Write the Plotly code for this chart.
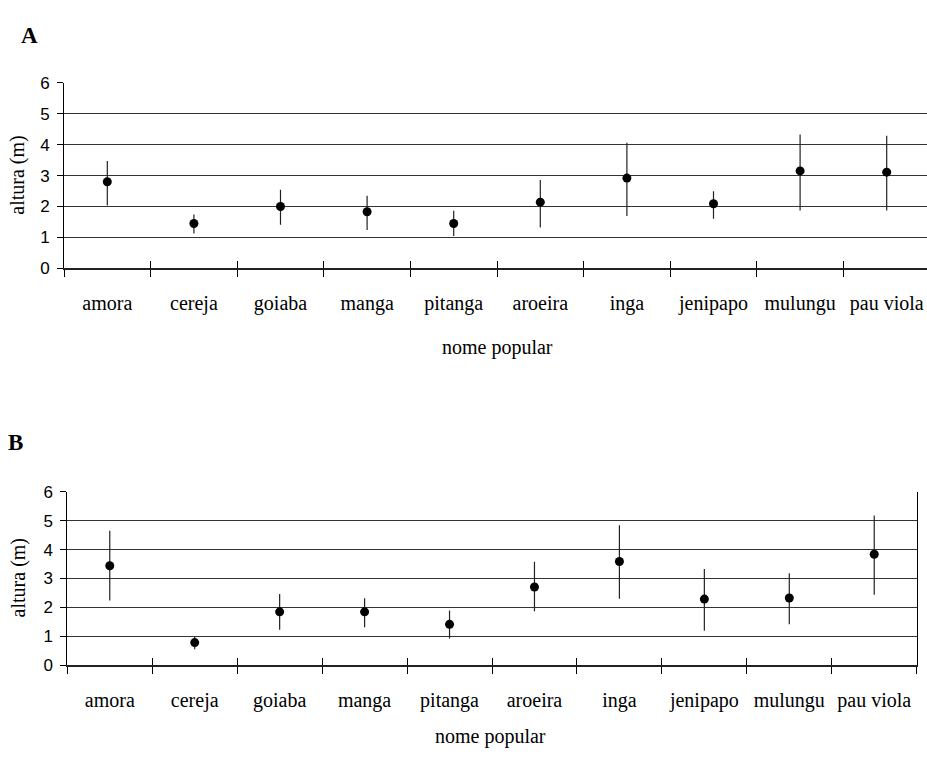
import plotly.graph_objects as go

categories = ["amora", "cereja", "goiaba", "manga", "pitanga",
              "aroeira", "inga", "jenipapo", "mulungu", "pau viola"]

# Panel A: mean height and error bar limits
a_mean = [2.80, 1.45, 2.00, 1.83, 1.45, 2.14, 2.92, 2.09, 3.15, 3.11]
a_upper = [3.47, 1.74, 2.54, 2.35, 1.86, 2.86, 4.06, 2.49, 4.33, 4.29]
a_lower = [2.03, 1.13, 1.41, 1.24, 1.05, 1.32, 1.69, 1.60, 1.87, 1.87]

# Panel B
b_mean = [3.44, 0.79, 1.85, 1.85, 1.42, 2.71, 3.59, 2.29, 2.33, 3.84]
b_upper = [4.65, 0.98, 2.47, 2.32, 1.90, 3.58, 4.84, 3.33, 3.18, 5.18]
b_lower = [2.24, 0.56, 1.23, 1.32, 0.93, 1.87, 2.30, 1.20, 1.42, 2.44]

y_ticks = [0, 1, 2, 3, 4, 5, 6]
boundaries = [i - 0.5 for i in range(len(categories) + 1)]

W, H = 927, 760
SERIF = "Liberation Serif, Times New Roman, serif"
SANS = "Liberation Sans, Arial, sans-serif"


def px_x(p):
    return p / W


def px_y(p):
    return (H - p) / H


fig = go.Figure()


def add_panel(mean, upper, lower, xa, ya, xov):
    fig.add_trace(go.Scatter(
        x=categories, y=mean, mode="markers",
        marker=dict(color="black", size=9),
        error_y=dict(type="data", symmetric=False,
                     array=[u - m for u, m in zip(upper, mean)],
                     arrayminus=[m - l for m, l in zip(mean, lower)],
                     width=0, thickness=1.2, color="#222"),
        xaxis=xa, yaxis=ya, showlegend=False, cliponaxis=False,
    ))
    fig.add_trace(go.Scatter(x=[], y=[], xaxis=xov, yaxis=ya,
                             showlegend=False, hoverinfo="skip"))


add_panel(a_mean, a_upper, a_lower, "x", "y", "x3")
add_panel(b_mean, b_upper, b_lower, "x2", "y2", "x4")

# Panel A geometry: category width ~86.6 px, starting at x=64, extending past right edge
a_left, a_step = 64, 86.6
a_right = W
a_range = [-0.5, -0.5 + (a_right - a_left) / a_step]
b_left, b_right = 67.3, 916.7
b_range = [-0.5, 9.5]

xcommon = dict(type="category", categoryorder="array", categoryarray=categories,
               tickson="boundaries", ticks="outside", ticklen=7, tickcolor="black",
               tickwidth=1, showline=True, linecolor="#222", linewidth=1.5,
               showgrid=False, zeroline=False,
               tickfont=dict(family=SERIF, size=20, color="black"),
               ticklabelstandoff=16)
ycommon = dict(range=[0, 6], tickvals=y_ticks, ticks="outside", ticklen=6,
               tickcolor="black", showline=True, linecolor="black", linewidth=1,
               showgrid=True, gridcolor="#333", gridwidth=1, zeroline=False,
               tickfont=dict(family=SANS, size=17, color="black"),
               ticklabelstandoff=4)
ovcommon = dict(type="linear", tickvals=boundaries, ticks="inside", ticklen=7,
                tickcolor="black", tickwidth=1, showticklabels=False,
                showgrid=False, zeroline=False, showline=False)


def ann(text, x, y, size, angle=0):
    return dict(text=text, x=px_x(x), y=px_y(y), xref="paper", yref="paper",
                xanchor="center", yanchor="middle", showarrow=False,
                textangle=angle, font=dict(family=SERIF, size=size, color="black"))


fig.update_layout(
    width=W, height=H,
    margin=dict(l=0, r=0, t=0, b=0),
    paper_bgcolor="white", plot_bgcolor="white",
    xaxis=dict(domain=[px_x(a_left), 1], range=a_range, anchor="y", **xcommon),
    yaxis=dict(domain=[px_y(266), px_y(75.7)], anchor="x", **ycommon),
    xaxis3=dict(overlaying="x", anchor="y", range=a_range, **ovcommon),
    xaxis2=dict(domain=[px_x(b_left), px_x(b_right)], range=b_range, anchor="y2",
                **xcommon),
    yaxis2=dict(domain=[px_y(673.3), px_y(495)], anchor="x2", mirror=True, **ycommon),
    xaxis4=dict(overlaying="x2", anchor="y2", range=b_range, **ovcommon),
    annotations=[
        ann("<b>A</b>", 30, 27, 23),
        ann("<b>B</b>", 16, 445, 23),
        ann("altura (m)", 18, 171, 20, -90),
        ann("altura (m)", 18, 584, 20, -90),
        ann("nome popular", 497, 347, 20),
        ann("nome popular", 490, 746, 20),
    ],
)

fig.write_html("out.html")
